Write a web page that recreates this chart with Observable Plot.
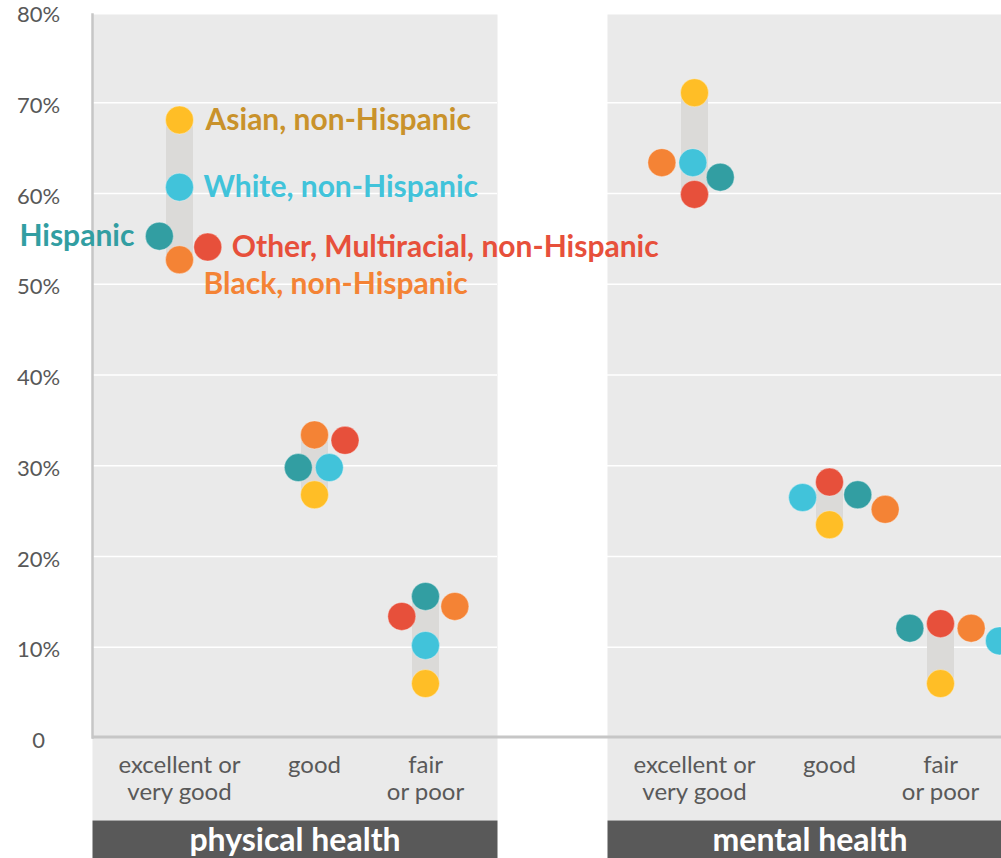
<!DOCTYPE html>
<html><head><meta charset="utf-8">
<script src="https://cdn.jsdelivr.net/npm/d3@7"></script>
<script src="https://cdn.jsdelivr.net/npm/@observablehq/plot@0.6"></script>
<style>
html,body{margin:0;padding:0;overflow:hidden;background:#fff;}
#chart svg{display:block;max-width:none !important;height:858px !important;}
</style></head><body><div id="chart"></div>
<script>
// ---- data (percent of adults rating their health) ----
const measures = ["physical health", "mental health"];
const categories = ["excellent or very good", "good", "fair or poor"];
const categoryLabels = ["excellent or\nvery good", "good", "fair\nor poor"];
const races = ["Asian, non-Hispanic", "White, non-Hispanic", "Black, non-Hispanic", "Hispanic", "Other, Multiracial, non-Hispanic"];
const yTicks = [0, 10, 20, 30, 40, 50, 60, 70, 80];

const asianPhysical    = [68.1, 26.8, 6.0];
const whitePhysical    = [60.7, 29.8, 10.2];
const blackPhysical    = [52.7, 33.4, 14.5];
const hispanicPhysical = [55.3, 29.8, 15.6];
const otherPhysical    = [54.1, 32.8, 13.4];

const asianMental    = [71.1, 23.5, 6.0];
const whiteMental    = [63.4, 26.5, 10.7];
const blackMental    = [63.4, 25.2, 12.1];
const hispanicMental = [61.8, 26.8, 12.1];
const otherMental    = [59.9, 28.2, 12.6];

// ---- styles ----
const raceColors = ["#FFBE26", "#41C3DA", "#F48335", "#329EA2", "#E7503B"];
const asianLabelColor = "#C9922B";
const X_RANGE = [179, 314, 425];
const Y_RANGE = [737.5, 11.5];
const R = 14;

// ---- build table ----
const series = {
  "physical health": [asianPhysical, whitePhysical, blackPhysical, hispanicPhysical, otherPhysical],
  "mental health": [asianMental, whiteMental, blackMental, hispanicMental, otherMental]
};
const points = [];
for (const m of measures) {
  series[m].forEach((vals, ri) => {
    vals.forEach((v, ci) => points.push({measure: m, cat: ci, race: races[ri], ri, value: v}));
  });
}

// ---- dodge layout (collision-avoiding placement around each category column) ----
const yS = d3.scaleLinear().domain([0, 80]).range(Y_RANGE);
const xS = d3.scaleLinear().domain([0, 1, 2]).range(X_RANGE);
const D = 31, TOL = 1;
const ranges = [];
for (const m of measures) {
  categories.forEach((c, ci) => {
    const g = points.filter(p => p.measure === m && p.cat === ci);
    const hi = d3.max(g, p => p.value), lo = d3.min(g, p => p.value);
    ranges.push({measure: m, cat: ci, lo, hi});
    const maxP = g.find(p => p.value === hi), minP = g.find(p => p.value === lo);
    const rest = g.filter(p => p !== maxP && p !== minP)
      .map(p => ({p, k: Math.min(hi - p.value, p.value - lo)}))
      .sort((a, b) => (a.k - b.k) || (a.p.ri - b.p.ri))
      .map(o => o.p);
    const placed = [];
    for (const p of [maxP, minP, ...rest]) {
      const py = yS(p.value);
      const cands = [0];
      for (const q of placed) {
        const dy = Math.abs(py - q.py);
        if (dy < D) { const h = Math.sqrt(D * D - dy * dy); cands.push(q.off + h, q.off - h); }
      }
      const valid = cands.filter(cx => placed.every(q => (cx - q.off) ** 2 + (py - q.py) ** 2 >= D * D - 1e-6))
        .sort((a, b) => Math.abs(a) - Math.abs(b));
      const best = Math.abs(valid[0]);
      const near = valid.filter(v => Math.abs(v) <= best + TOL);
      const off = near.find(v => v >= 0) ?? near[0];
      placed.push({p, py, off});
      p.xPos = xS.invert(xS(ci) + off);
    }
  });
}

const isLegend = d => d.measure === "physical health" && d.cat === 0;
const labelFont = {fontSize: 30, fontWeight: "bold", letterSpacing: 0.3};

const chart = Plot.plot({
  width: 1012, height: 858,
  marginTop: 14, marginBottom: 0, marginLeft: 92, marginRight: 0,
  style: {fontFamily: "Lato, 'Open Sans', sans-serif", background: "transparent", overflow: "visible"},
  fx: {domain: measures, paddingInner: 110 / 515, paddingOuter: 0, axis: null, label: null},
  x: {type: "linear", domain: [0, 1, 2], range: X_RANGE},
  y: {type: "linear", domain: [0, 80], range: Y_RANGE},
  color: {domain: races, range: raceColors},
  marks: [
    Plot.frame({fill: "#eaeaea", insetBottom: 38}),
    Plot.frame({fill: "#595959", insetTop: 806}),
    Plot.ruleY(yTicks.filter(t => t > 0 && t < 80), {stroke: "#ffffff", strokeWidth: 1.5}),
    Plot.ruleY([0], {stroke: "#c6c6c6", strokeWidth: 3, insetRight: -110, dy: -1}),
    Plot.frame({anchor: "left", stroke: "#c6c6c6", strokeWidth: 2.5, insetBottom: 121, facetAnchor: "left"}),
    Plot.axisY({ticks: yTicks, tickSize: 0, tickPadding: 0, textAnchor: "middle", dx: -54, dy: 3,
      tickFormat: d => d === 0 ? "0" : d + "%", fontSize: 22, fill: "#585858", letterSpacing: 0.6, label: null}),
    Plot.axisX({ticks: [0, 1, 2], tickSize: 0, anchor: "bottom", lineAnchor: "top", dy: -114,
      tickFormat: i => categoryLabels[i], fontSize: 24, fill: "#595959", letterSpacing: 1.4, lineHeight: 1.125, label: null}),
    Plot.ruleX(ranges, {fx: "measure", x: "cat", y1: "lo", y2: "hi", stroke: "#dbdad8", strokeWidth: 27}),
    Plot.dot(points, {fx: "measure", x: "xPos", y: "value", r: R, fill: "race", stroke: "#ffffff", strokeOpacity: 0.35, strokeWidth: 1}),
    Plot.text(points, {filter: d => isLegend(d) && d.ri === 0, fx: "measure", x: "xPos", y: "value", text: "race",
      textAnchor: "start", dx: 26, fill: asianLabelColor, ...labelFont}),
    Plot.text(points, {filter: d => isLegend(d) && (d.ri === 1 || d.ri === 4), fx: "measure", x: "xPos", y: "value", text: "race",
      textAnchor: "start", dx: 24, fill: "race", ...labelFont}),
    Plot.text(points, {filter: d => isLegend(d) && d.ri === 3, fx: "measure", x: "xPos", y: "value", text: "race",
      textAnchor: "end", dx: -25, fill: "race", ...labelFont}),
    Plot.text(points, {filter: d => isLegend(d) && d.ri === 2, fx: "measure", x: "xPos", y: "value", text: "race",
      textAnchor: "start", dx: 24, dy: 25, fill: "race", ...labelFont}),
    Plot.text(measures, {fx: d => d, text: d => d, frameAnchor: "bottom", dy: -8, fill: "#ffffff",
      fontSize: 32, fontWeight: "bold", letterSpacing: 2.7})
  ]
});
document.getElementById("chart").appendChild(chart);
</script>
</body></html>
